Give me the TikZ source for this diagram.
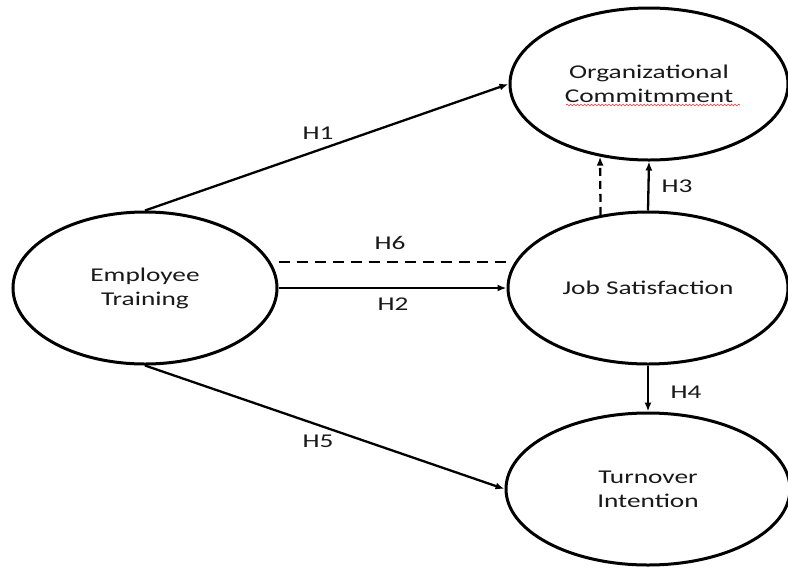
\documentclass[tikz,border=0pt]{standalone}
\usepackage{fontspec}
\setmainfont{Carlito}[FakeStretch=1.4]
\usetikzlibrary{shapes.geometric,arrows.meta,decorations.pathmorphing}
\begin{document}
\begin{tikzpicture}[x=1pt,y=-1pt,
  construct/.style={draw=black,line width=3pt,ellipse,inner sep=0pt,
    minimum height=152pt,align=center,font=\fontsize{19.5}{24}\selectfont,text=black!90},
  link/.style={line width=2.3pt,-{Latex[length=9pt,width=7pt]}},
  dlink/.style={line width=2.3pt,dash pattern=on 11pt off 7pt},
  hlabel/.style={font=\fontsize{19.5}{24}\selectfont,text=black!90,inner sep=0pt}]
\useasboundingbox (0,0) rectangle (788,566);
\node[construct,minimum width=278pt] (OC) at (649,84) {Organizational\\Commitmment};
\node[construct,minimum width=280pt] (JS) at (648,288) {Job Satisfaction};
\node[construct,minimum width=284pt] (TI) at (648,489) {Turnover\\Intention};
\node[construct,minimum width=264pt] (ET) at (145,288) {Employee\\Training};
% spell-check squiggle
\coordinate (sqA) at (566,105);
\coordinate (sqB) at (740,105);
\draw[red!80,line width=0.6pt,decorate,decoration={snake,amplitude=0.9pt,segment length=3.5pt}] (sqA) -- (sqB);
% connectors
\draw[link] (ET.north) -- (OC.west);
\draw[link] (ET.east) -- (JS.west);
\draw[link] (ET.south) -- (TI.west);
\draw[link] (JS.north) -- (OC.south);
\draw[link] (JS.south) -- (TI.north);
\draw[dlink] (ET.east |- 0,262) -- (JS.west |- 0,262);
\draw[dlink,dash pattern=on 8pt off 5pt,-{Latex[length=9pt,width=7pt]}] (JS.123) -- (OC.236);
% labels
\node[hlabel] (h1) at (318,133) {H1};
\node[hlabel] (h6) at (390,243) {H6};
\node[hlabel] (h2) at (393,304) {H2};
\node[hlabel] (h3) at (677,186) {H3};
\node[hlabel] (h4) at (686,392) {H4};
\node[hlabel] (h5) at (318,441) {H5};
\end{tikzpicture}
\end{document}
